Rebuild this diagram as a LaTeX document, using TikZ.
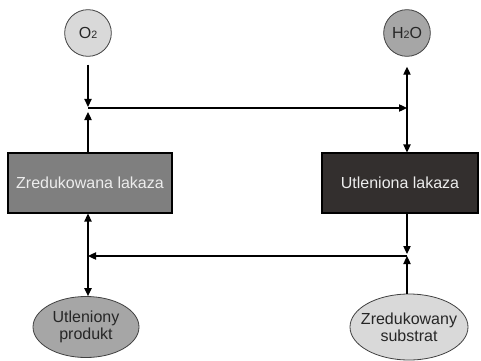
\documentclass[tikz,border=0pt]{standalone}
\usepackage{fontspec}
\setmainfont{Liberation Sans}
\usetikzlibrary{arrows.meta,shapes.geometric}

\definecolor{boxlight}{HTML}{7F7F7F}
\definecolor{boxdark}{HTML}{332F2E}
\definecolor{filllight}{HTML}{D9D9D9}
\definecolor{fillmid}{HTML}{A6A6A6}
\definecolor{outline}{HTML}{404040}
\definecolor{inktext}{HTML}{262626}

\tikzset{
  lakbox/.style={draw=black, line width=0.8pt, minimum width=123pt, minimum height=45pt,
    inner sep=0pt, text=white!93!black, font=\fontsize{12}{14}\selectfont},
  molecule/.style={circle, draw=outline, line width=0.6pt, minimum size=35pt, inner sep=0pt,
    text=inktext, font=\fontsize{12}{14}\selectfont},
  substance/.style={ellipse, draw=outline, line width=0.6pt, inner sep=0pt},
  subtext/.style={align=center, text=inktext, font=\fontsize{12}{12.5}\selectfont},
  flow/.style={line width=0.9pt, -{Triangle[length=6pt,width=5.5pt]}},
  flowboth/.style={line width=0.9pt, {Triangle[length=6pt,width=5.5pt]}-{Triangle[length=6pt,width=5.5pt]}}
}

\newcommand{\sbs}[1]{\raisebox{-0.6pt}{\fontsize{8}{8}\selectfont #1}}

\begin{document}
\begin{tikzpicture}[x=0.75pt,y=-0.75pt]
  \useasboundingbox (0,0) rectangle (481,360);

  % enzyme states
  \node[lakbox, fill=boxlight] (zr) at (90,183) {Zredukowana lakaza};
  \node[lakbox, fill=boxdark, minimum width=117pt] (ul) at (400,183) {Utleniona lakaza};

  % oxygen and water
  \node[molecule, fill=filllight] (o2) at (88,33) {O\sbs{2}};
  \node[molecule, fill=fillmid] (h2o) at (407,33) {H\sbs{2}O};

  % product and substrate
  \node[substance, fill=fillmid, minimum width=79.5pt, minimum height=45.75pt] (utl) at (86,327) {};
  \node[subtext] (utlT) at (utl) {Utleniony\\produkt};
  \node[substance, fill=filllight, minimum width=88.5pt, minimum height=49.5pt] (zs) at (409,327) {};
  \node[subtext] (zsT) at (zs) {Zredukowany\\substrat};

  % junction points
  \coordinate (jtl) at (88,108);
  \coordinate (jtr) at (407,108);
  \coordinate (jbl) at (88,256);
  \coordinate (jbr) at (407,256);

  % upper cycle: oxygen reduced to water
  \draw[flow, shorten <=6pt, shorten >=0.8pt] (o2.south) -- (jtl);
  \draw[flow, shorten >=3pt] (zr.north -| jtl) -- (jtl);
  \draw[flow] (jtl) -- (jtr);
  \draw[flow, shorten >=7.5pt] (jtr) -- (h2o.south);
  \draw[flow] (jtr) -- (ul.north -| jtr);

  % lower cycle: substrate oxidised
  \draw[flowboth] (zr.south -| jbl) -- (utl.north -| jbl);
  \draw[flow] (jbr) -- (jbl);
  \draw[flow, shorten >=1.5pt] (ul.south -| jbr) -- (jbr);
  \draw[flow] (zs.north -| jbr) -- (jbr);
\end{tikzpicture}
\end{document}
